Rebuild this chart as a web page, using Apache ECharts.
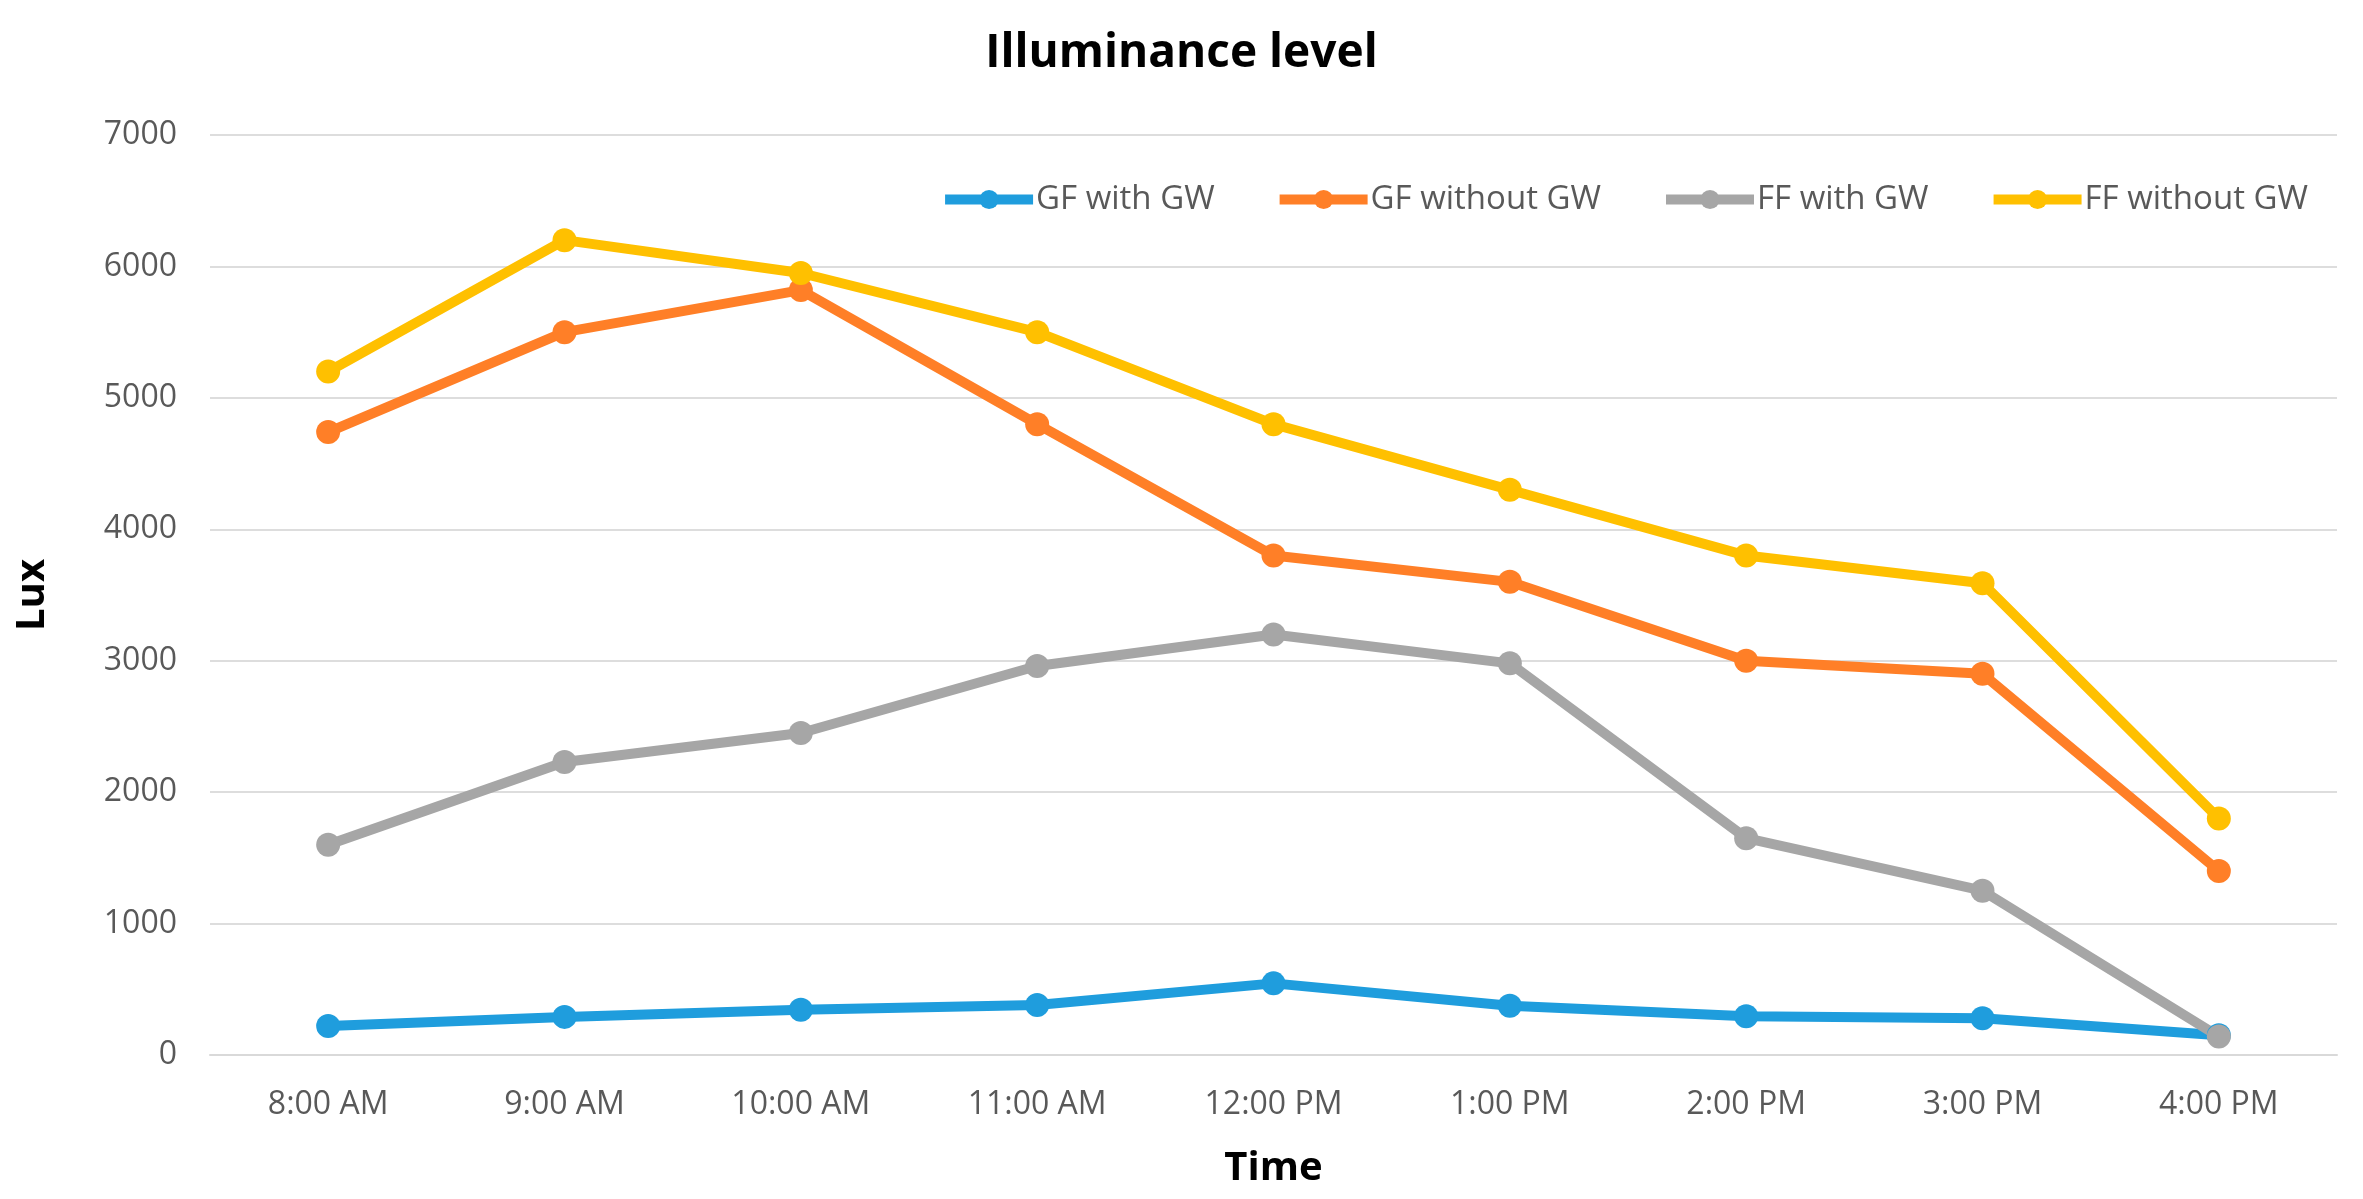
<!DOCTYPE html>
<html>
<head>
<meta charset="utf-8">
<script src="https://cdn.jsdelivr.net/npm/echarts@6/dist/echarts.min.js"></script>
<style>
html,body{margin:0;padding:0;background:#fff;}
#chart{width:2363px;height:1199px;}
</style>
</head>
<body>
<div id="chart"></div>
<script>
const categories = ['8:00 AM','9:00 AM','10:00 AM','11:00 AM','12:00 PM','1:00 PM','2:00 PM','3:00 PM','4:00 PM'];
const gfWithGW = [220, 290, 345, 380, 545, 375, 295, 280, 150];
const gfWithoutGW = [4740, 5500, 5820, 4800, 3800, 3600, 3000, 2900, 1400];
const ffWithGW = [1600, 2230, 2450, 2960, 3200, 2980, 1650, 1250, 140];
const ffWithoutGW = [5200, 6200, 5950, 5500, 4800, 4300, 3800, 3590, 1800];
const seriesNames = ['GF with GW','GF without GW','FF with GW','FF without GW'];
const colors = ['#1F9DDD','#FF7F27','#A6A6A6','#FFC000'];
const yTicks = {min: 0, max: 7000, interval: 1000};

const chart = echarts.init(document.getElementById('chart'));
const font = "'Open Sans', 'DejaVu Sans', sans-serif";
function mk(name, data, color){
  return {
    name: name, type: 'line', data: data,
    symbol: 'circle', symbolSize: 24,
    itemStyle: {color: color},
    lineStyle: {color: color, width: 10},
    emphasis: {disabled: true},
    animation: false
  };
}
chart.setOption({
  animation: false,
  backgroundColor: '#fff',
  title: {
    text: 'Illuminance level', left: 'center', top: 26,
    textStyle: {fontFamily: font, fontWeight: 'bold', fontSize: 46, color: '#000'}
  },
  legend: {
    data: seriesNames, right: 50, top: 178,
    itemWidth: 88, itemHeight: 24, itemGap: 60,
    lineStyle: {width: 10},
    textStyle: {fontFamily: font, fontSize: 33, color: '#595959', padding: [0,0,0,-2]}
  },
  grid: {left: 210, right: 26, top: 135, bottom: 144},
  xAxis: {
    type: 'category', data: categories, boundaryGap: true,
    name: 'Time', nameLocation: 'middle', nameGap: 114,
    nameTextStyle: {fontFamily: font, fontWeight: 'bold', fontSize: 40, color: '#000', verticalAlign: 'middle'},
    axisLine: {show: true, lineStyle: {color: '#D9D9D9', width: 2}},
    axisTick: {show: false},
    axisLabel: {fontFamily: font, fontSize: 32, color: '#595959', margin: 34}
  },
  yAxis: {
    type: 'value', min: yTicks.min, max: yTicks.max, interval: yTicks.interval,
    name: 'Lux', nameLocation: 'middle', nameGap: 177, nameRotate: 90,
    nameTextStyle: {fontFamily: font, fontWeight: 'bold', fontSize: 40, color: '#000', verticalAlign: 'middle'},
    axisLine: {show: false}, axisTick: {show: false},
    axisLabel: {fontFamily: font, fontSize: 32, color: '#595959', margin: 33, formatter: v => String(v)},
    splitLine: {lineStyle: {color: '#DDDDDD', width: 2}}
  },
  series: [
    mk(seriesNames[0], gfWithGW, colors[0]),
    mk(seriesNames[1], gfWithoutGW, colors[1]),
    mk(seriesNames[2], ffWithGW, colors[2]),
    mk(seriesNames[3], ffWithoutGW, colors[3])
  ]
});
</script>
</body>
</html>
